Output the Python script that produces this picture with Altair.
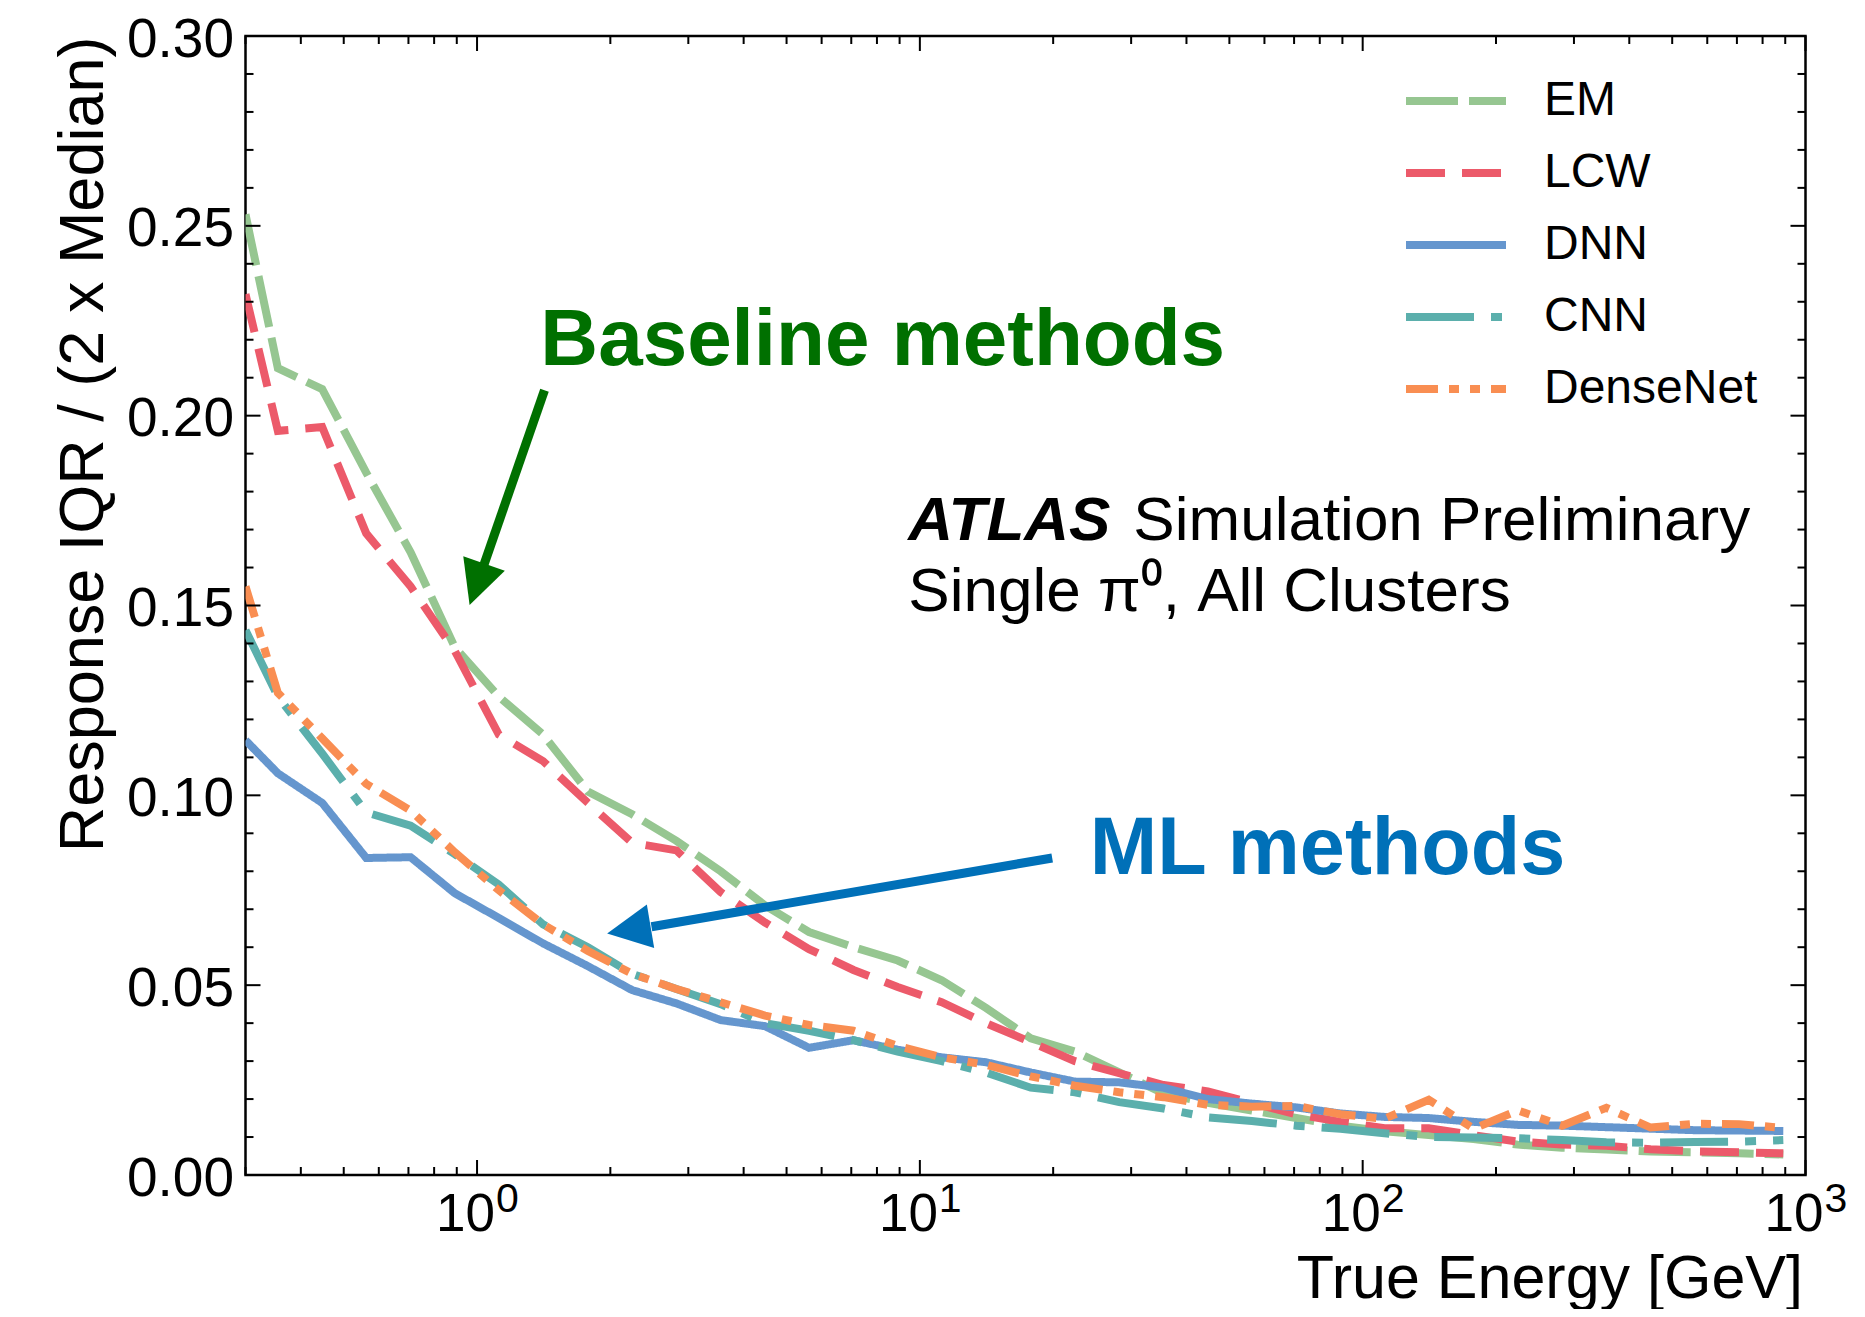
import altair as alt
import pandas as pd

# ---------------- data ----------------
energy = [0.3, 0.355, 0.447, 0.562, 0.708, 0.891, 1.12, 1.41, 1.78, 2.24, 2.82,
          3.55, 4.47, 5.62, 7.08, 8.91, 11.2, 14.1, 17.8, 22.4, 28.2, 35.5, 44.7,
          56.2, 70.8, 89.1, 112, 141, 178, 224, 282, 355, 447, 562, 708, 891]

em = [0.253, 0.2125, 0.207, 0.185, 0.164, 0.139, 0.126, 0.116, 0.101, 0.095, 0.088,
      0.080, 0.071, 0.064, 0.060, 0.0565, 0.0513, 0.044, 0.036, 0.0325, 0.027, 0.0215,
      0.019, 0.017, 0.015, 0.013, 0.0115, 0.0105, 0.0095, 0.008, 0.0072, 0.0067,
      0.0062, 0.006, 0.0057, 0.0054]
lcw = [0.232, 0.196, 0.197, 0.169, 0.155, 0.138, 0.116, 0.109, 0.098, 0.0875, 0.0855,
       0.0745, 0.0665, 0.0595, 0.054, 0.0495, 0.0455, 0.040, 0.035, 0.030, 0.0268, 0.0237,
       0.022, 0.019, 0.016, 0.014, 0.0123, 0.0123, 0.0105, 0.0088, 0.008, 0.0077,
       0.0068, 0.0062, 0.006, 0.0057]
dnn = [0.1145, 0.1058, 0.098, 0.0835, 0.0837, 0.0742, 0.0677, 0.061, 0.055, 0.0487, 0.0452,
       0.0408, 0.0392, 0.0335, 0.0355, 0.033, 0.031, 0.0297, 0.027, 0.0246, 0.0244, 0.023,
       0.020, 0.0188, 0.0178, 0.0162, 0.0153, 0.015, 0.014, 0.0132, 0.013, 0.0126,
       0.0122, 0.0118, 0.0117, 0.0116]
cnn = [0.1435, 0.126, 0.111, 0.0955, 0.092, 0.0845, 0.0765, 0.066, 0.060, 0.053, 0.049,
       0.045, 0.040, 0.038, 0.0355, 0.0325, 0.030, 0.027, 0.023, 0.0218, 0.0192, 0.0175,
       0.0152, 0.0142, 0.013, 0.0122, 0.011, 0.010, 0.0099, 0.0097, 0.0092, 0.0086,
       0.0085, 0.0087, 0.0088, 0.0092]
densenet = [0.155, 0.127, 0.115, 0.103, 0.096, 0.085, 0.075, 0.066, 0.059, 0.053, 0.049,
            0.0455, 0.042, 0.0395, 0.038, 0.034, 0.031, 0.029, 0.026, 0.0235, 0.0218, 0.0205,
            0.0185, 0.018, 0.0182, 0.016, 0.0148, 0.0198, 0.0122, 0.017, 0.013, 0.0177,
            0.0125, 0.0135, 0.0134, 0.0124]

methods = ["EM", "LCW", "DNN", "CNN", "DenseNet"]
colors = ["#96c691", "#ec5a6a", "#6596ce", "#5bafac", "#f98e52"]
dashes = [[52, 11], [39, 17], [1, 0], [68, 17, 11, 17], [32, 11, 10, 11, 10, 11]]

y_major = [0.0, 0.05, 0.10, 0.15, 0.20, 0.25, 0.30]
y_minor = [round(i * 0.01, 2) for i in range(1, 30) if i % 5 != 0]
x_major = [1, 10, 100, 1000]
x_minor = [m * 10 ** d for d in (-1, 0, 1, 2) for m in range(2, 10) if m * 10 ** d > 0.3]
x_tick_base = ["10", "10", "10", "10"]
x_tick_exp = ["0", "1", "2", "3"]

# annotations (data coordinates)
baseline_label = {"E": [1.39], "val": [0.2133], "text": ["Baseline methods"]}
ml_label = {"E": [24.2], "val": [0.0793], "text": ["ML methods"]}
atlas_line1 = {"E": [9.42], "val": [0.1672]}
atlas_line2 = {"E": [9.42], "val": [0.1485], "text": ["Single \u03c0\u2070, All Clusters"]}
green_arrow = {"x1": [1.42], "y1": [0.2067], "x2": [1.037], "y2": [0.1608],
               "tx": [0.962], "ty": [0.1501]}
blue_arrow = {"x1": [19.9], "y1": [0.0835], "x2": [2.477], "y2": [0.0654],
              "tx": [1.967], "ty": [0.0636]}

# ---------------- chart ----------------
W, H = 1560, 1139
FONT = "Liberation Sans"

rows = []
for m, vals in zip(methods, [em, lcw, dnn, cnn, densenet]):
    for e, v in zip(energy, vals):
        rows.append({"E": e, "val": v, "method": m})
df = pd.DataFrame(rows)

xs = alt.Scale(type="log", domain=[0.3, 1000], nice=False)
ys = alt.Scale(domain=[0, 0.3], nice=False, zero=False)

X_AXIS = alt.Axis(
    title="True Energy [GeV]", labels=False, ticks=False, domain=False, grid=False,
    titleX=W - 3, titleY=122, titleAlign="right", titleBaseline="alphabetic",
    titleFontSize=61, titleFont=FONT, titleFontWeight="normal", titleColor="black")
Y_AXIS = alt.Axis(
    values=y_major, format=".2f", title="Response IQR / (2 x Median)",
    ticks=False, tickSize=0, domain=False, grid=False, labelPadding=12,
    labelFontSize=55, labelFont=FONT, labelColor="black", labelBaseline="middle",
    labelOffset=3,
    titleX=-143, titleY=0, titleAngle=-90, titleAlign="right", titleBaseline="alphabetic",
    titleFontSize=63, titleFont=FONT, titleFontWeight="normal", titleColor="black")


def XQ(field):
    return alt.X(field, type="quantitative", scale=xs, axis=X_AXIS)


def YQ(field):
    return alt.Y(field, type="quantitative", scale=ys, axis=Y_AXIS)


legend = alt.Legend(title=None, orient="none", legendX=1181.5, legendY=36,
                    symbolType="M-2,0H2", symbolSize=2500, symbolStrokeWidth=8,
                    labelFontSize=48, labelFont=FONT, labelColor="black",
                    labelOffset=59, rowPadding=19, padding=0, labelLimit=500)

lines = alt.Chart(df).mark_line(strokeWidth=8, clip=True).encode(
    x=XQ("E"),
    y=YQ("val"),
    color=alt.Color("method:N", scale=alt.Scale(domain=methods, range=colors), legend=legend),
    strokeDash=alt.StrokeDash("method:N", scale=alt.Scale(domain=methods, range=dashes), legend=legend),
)


def xticks(vals, length, top):
    return alt.Chart(pd.DataFrame({"E": vals})).mark_rule(color="black", strokeWidth=2).encode(
        x=XQ("E"),
        y=alt.value(0 if top else H),
        y2=alt.value(length if top else H - length),
    )


def yticks(vals, length, right):
    return alt.Chart(pd.DataFrame({"val": vals})).mark_rule(color="black", strokeWidth=2).encode(
        y=YQ("val"),
        x=alt.value(W if right else 0),
        x2=alt.value(W - length if right else length),
    )


tick_layers = [
    xticks(x_major, 15, False), xticks(x_minor, 8, False),
    xticks(x_major, 15, True), xticks(x_minor, 8, True),
    yticks(y_major, 15, False), yticks(y_minor, 8, False),
    yticks(y_major, 15, True), yticks(y_minor, 8, True),
]

xlab = pd.DataFrame({"E": x_major, "base": x_tick_base, "exp": x_tick_exp})
xlab_base = alt.Chart(xlab).mark_text(align="right", baseline="alphabetic", dx=18,
                                      fontSize=53, font=FONT, color="black").encode(
    x=XQ("E"), y=alt.value(H + 56), text="base:N")
xlab_exp = alt.Chart(xlab).mark_text(align="left", baseline="alphabetic", dx=19,
                                     fontSize=41, font=FONT, color="black").encode(
    x=XQ("E"), y=alt.value(H + 37), text="exp:N")


def label(d, color, size, weight="bold", style="normal", dx=0, text=None):
    ch = alt.Chart(pd.DataFrame(d)).mark_text(
        align="left", baseline="alphabetic", fontSize=size, font=FONT,
        fontWeight=weight, fontStyle=style, color=color, dx=dx)
    enc = dict(x=XQ("E"), y=YQ("val"))
    enc["text"] = "text:N" if text is None else alt.value(text)
    return ch.encode(**enc)


def arrow(d, color, angle):
    src = pd.DataFrame(d)
    shaft = alt.Chart(src).mark_rule(color=color, strokeWidth=9).encode(
        x=XQ("x1"), x2="x2:Q", y=YQ("y1"), y2="y2:Q")
    head = alt.Chart(src).mark_point(shape="M0,0L-1,2L1,2Z", filled=True, size=1936,
                                     angle=angle, color=color, opacity=1, strokeWidth=0).encode(
        x=XQ("tx"), y=YQ("ty"))
    return shaft + head


ann_layers = [
    label(baseline_label, "#007000", 80),
    label(ml_label, "#0070b8", 81),
    label(atlas_line1, "black", 62, weight="bold", style="italic", text="ATLAS"),
    label(atlas_line1, "black", 62, weight="normal", dx=225, text="Simulation Preliminary"),
    label(atlas_line2, "black", 62, weight="normal"),
    arrow(green_arrow, "#007000", 199.2),
    arrow(blue_arrow, "#0070b8", 260.4),
]

chart = alt.layer(lines, *tick_layers, xlab_base, xlab_exp, *ann_layers).properties(
    width=W, height=H,
    autosize=alt.AutoSizeParams(type="none"),
    padding={"left": 237.5, "top": 28, "right": 50, "bottom": 134},
    background="white",
).configure_view(stroke="black", strokeWidth=2.5)

chart.save("out.html", embed_options={"renderer": "svg", "actions": False})
